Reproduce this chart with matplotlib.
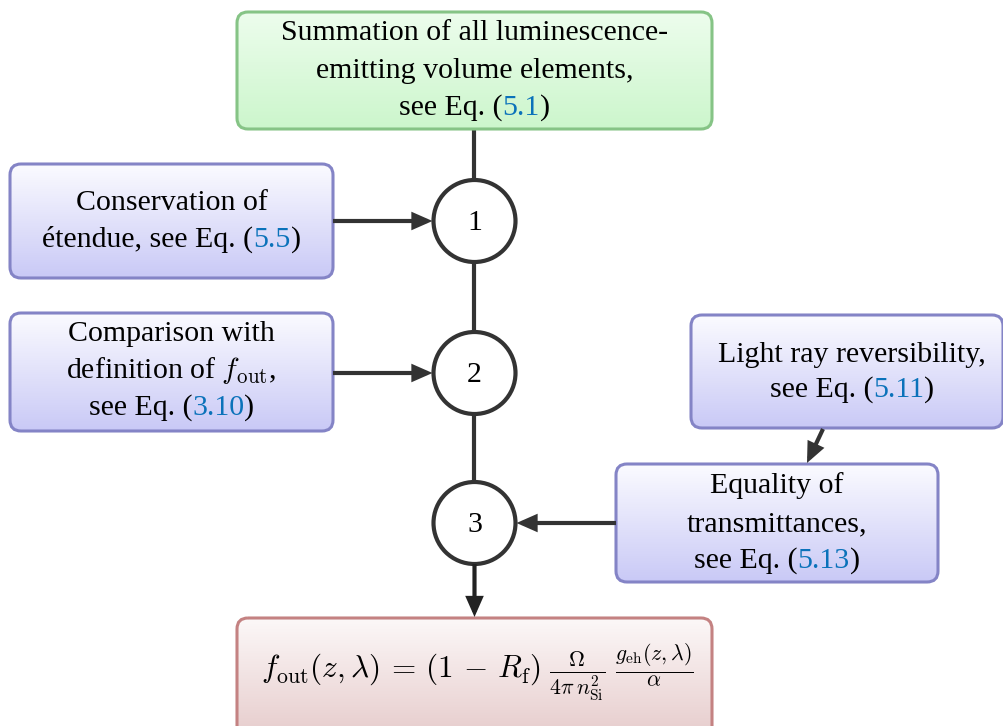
import matplotlib
matplotlib.use('Agg')
import matplotlib.pyplot as plt
import numpy as np
from matplotlib.patches import FancyBboxPatch, Circle, FancyArrowPatch, ArrowStyle
from matplotlib.colors import to_rgb

plt.rcParams['font.family'] = ['Liberation Serif', 'DejaVu Serif']
plt.rcParams['mathtext.fontset'] = 'cm'

# ---------------- content ----------------
# text between « » is a blue cross-reference
green_lines = ["Summation of all luminescence-", "emitting volume elements,", "see Eq. («5.1»)"]
cons_lines = ["Conservation of", "étendue, see Eq. («5.5»)"]
comp_lines = ["Comparison with", r"definition of $f_{\mathrm{out}}$,", "see Eq. («3.10»)"]
light_lines = ["Light ray reversibility,", "see Eq. («5.11»)"]
equal_lines = ["Equality of", "transmittances,", "see Eq. («5.13»)"]
step_labels = ["1", "2", "3"]
formula = (r"$f_{\mathrm{out}}(z,\lambda)\,=\,(1\,-\,R_{\mathrm{f}})\;"
           r"\frac{\Omega}{4\pi\,n_{\mathrm{Si}}^{2}}\;\frac{g_{\mathrm{eh}}(z,\lambda)}{\alpha}$")

# ---------------- style ----------------
W, H = 1004, 726
FS = 21.5
LINE = '#333333'
REF = '#0a72ba'
BLUE_EDGE, BLUE_TOP, BLUE_BOT = '#8484c6', '#fbfbff', '#c9c9f6'
GREEN_EDGE, GREEN_TOP, GREEN_BOT = '#86c486', '#edfded', '#ccf6cc'
RED_EDGE, RED_TOP, RED_BOT = '#c48282', '#fcf8f8', '#e6cbcb'

fig = plt.figure(figsize=(W / 100, H / 100), dpi=100)
ax = fig.add_axes([0, 0, 1, 1])
ax.set_xlim(0, W)
ax.set_ylim(H, 0)
ax.axis('off')
renderer = fig.canvas.get_renderer()


def gbox(x0, y0, x1, y1, edge, top, bot):
    p = FancyBboxPatch((x0, y0), x1 - x0, y1 - y0,
                       boxstyle="round,pad=0,rounding_size=11",
                       fc='none', ec=edge, lw=2.2, zorder=3)
    ax.add_patch(p)
    t = np.array(to_rgb(top)); b = np.array(to_rgb(bot))
    n = 256
    f = np.linspace(0, 1, n)[:, None]
    img = (t[None, :] * (1 - f) + b[None, :] * f)[:, None, :]
    im = ax.imshow(img, extent=(x0, x1, y1, y0), aspect='auto',
                   interpolation='bilinear', zorder=2)
    fill = FancyBboxPatch((x0, y0), x1 - x0, y1 - y0,
                          boxstyle="round,pad=0,rounding_size=11",
                          fc='none', ec='none', transform=ax.transData)
    ax.add_patch(fill)
    im.set_clip_path(fill)


def parse(s):
    segs = []
    cur = ''
    for ch in s:
        if ch == '«':
            if cur: segs.append((cur, 'black'))
            cur = ''
        elif ch == '»':
            segs.append((cur, REF)); cur = ''
        else:
            cur += ch
    if cur: segs.append((cur, 'black'))
    return segs


def mixed_line(xc, yb, s, fs=FS):
    segs = parse(s)
    texts = []
    widths = []
    for txt, col in segs:
        t = ax.text(0, yb, txt, fontsize=fs, color=col, ha='left', va='baseline', zorder=5)
        widths.append(t.get_window_extent(renderer).width)
        texts.append(t)
    total = sum(widths)
    x = xc - total / 2
    for t, w in zip(texts, widths):
        t.set_x(x)
        x += w


def block(xc, baselines, lines):
    for yb, s in zip(baselines, lines):
        mixed_line(xc, yb, s)


# ---------------- boxes ----------------
gbox(237, 12, 712, 129, GREEN_EDGE, GREEN_TOP, GREEN_BOT)
block(474.5, [40, 78, 115], green_lines)

gbox(10, 164, 333, 278, BLUE_EDGE, BLUE_TOP, BLUE_BOT)
block(171.5, [210, 247], cons_lines)

gbox(10, 313, 333, 431, BLUE_EDGE, BLUE_TOP, BLUE_BOT)
block(171.5, [341, 378, 415], comp_lines)

gbox(691, 315, 1003, 428, BLUE_EDGE, BLUE_TOP, BLUE_BOT)
block(852, [362, 397], light_lines)

gbox(616, 464, 938, 582, BLUE_EDGE, BLUE_TOP, BLUE_BOT)
block(777, [493, 531, 568], equal_lines)

gbox(237, 618, 712, 740, RED_EDGE, RED_TOP, RED_BOT)
ax.text(477, 672, formula, fontsize=22.5, ha='center', va='center', zorder=5)

# ---------------- circles and connectors ----------------
cx = 474.5
cy = [221, 373, 523]
r = 41
for y, lab in zip(cy, step_labels):
    ax.add_patch(Circle((cx, y), r, fc='white', ec=LINE, lw=3, zorder=4))
    ax.text(cx, y + 9, lab, fontsize=FS, ha='center', va='baseline', zorder=5)

ax.plot([cx, cx], [129, cy[0] - r], color=LINE, lw=3, zorder=1, solid_capstyle='butt')
ax.plot([cx, cx], [cy[0] + r, cy[1] - r], color=LINE, lw=3, zorder=1, solid_capstyle='butt')
ax.plot([cx, cx], [cy[1] + r, cy[2] - r], color=LINE, lw=3, zorder=1, solid_capstyle='butt')

style = ArrowStyle('-|>', head_length=0.5, head_width=0.22)


def arrow(p0, p1, col=LINE):
    a = FancyArrowPatch(p0, p1, arrowstyle=style, mutation_scale=20,
                        color=col, lw=3, shrinkA=0, shrinkB=0, zorder=6,
                        joinstyle='miter', capstyle='butt')
    ax.add_patch(a)


arrow((333, cy[0]), (cx - r - 1, cy[0]))
arrow((333, cy[1]), (cx - r - 1, cy[1]))
arrow((616, cy[2]), (cx + r + 1, cy[2]))
arrow((cx, cy[2] + r), (cx, 617), col='#222222')
arrow((823, 429), (807, 463))

fig.savefig('out.png', dpi=100)
